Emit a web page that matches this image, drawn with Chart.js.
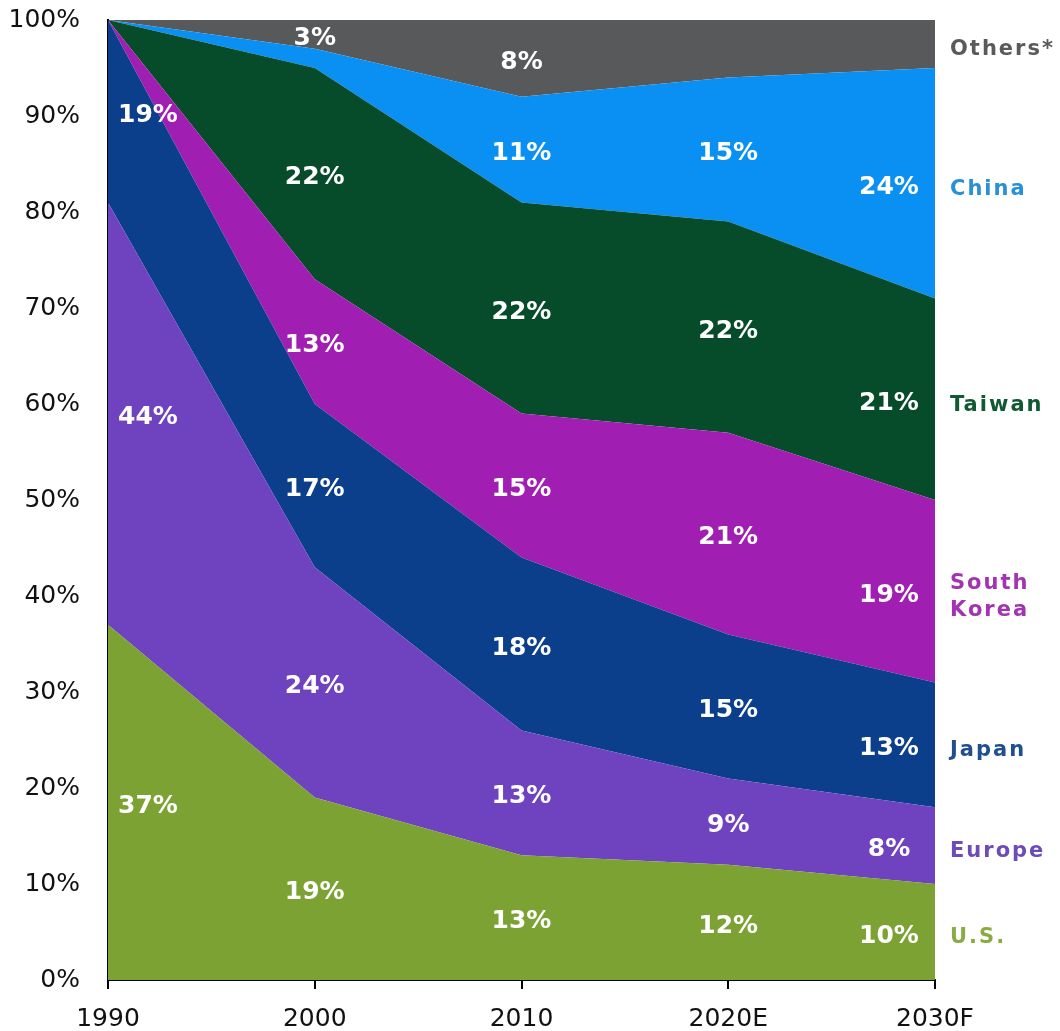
<!DOCTYPE html>
<html>
<head>
<meta charset="utf-8">
<script src="https://cdn.jsdelivr.net/npm/chart.js@4.4.1/dist/chart.umd.min.js"></script>
<style>
  html, body { margin: 0; padding: 0; background: #ffffff; }
  #wrap { width: 1060px; height: 1031px; position: relative; }
</style>
</head>
<body>
<div id="wrap"><canvas id="chart" width="1060" height="1031"></canvas></div>
<script>
// Share of semiconductor manufacturing capacity by region (%)
const years = ['1990', '2000', '2010', '2020E', '2030F'];
const us = [37, 19, 13, 12, 10];
const europe = [44, 24, 13, 9, 8];
const japan = [19, 17, 18, 15, 13];
const southKorea = [0, 13, 15, 21, 19];
const taiwan = [0, 22, 22, 22, 21];
const china = [0, 2, 11, 15, 24];
const others = [0, 3, 8, 6, 5];

const yTicks = [0, 10, 20, 30, 40, 50, 60, 70, 80, 90, 100];

// points whose value is too thin to carry a label
const unlabeledPoints = [['China', '2000'], ['Others*', '2020E'], ['Others*', '2030F']];

const seriesDefs = [
  { name: 'U.S.',    lines: ['U.S.'],           values: us,         fill: '#7ba232', text: '#8aab42' },
  { name: 'Europe',  lines: ['Europe'],         values: europe,     fill: '#6f42bf', text: '#6e4bb8' },
  { name: 'Japan',   lines: ['Japan'],          values: japan,      fill: '#0b3f8b', text: '#1f4f8e' },
  { name: 'South Korea', lines: ['South', 'Korea'], values: southKorea, fill: '#a11eb3', text: '#a233b2' },
  { name: 'Taiwan',  lines: ['Taiwan'],         values: taiwan,     fill: '#064c2b', text: '#0f5a33' },
  { name: 'China',   lines: ['China'],          values: china,      fill: '#0a90f3', text: '#2890d8' },
  { name: 'Others*', lines: ['Others*'],        values: others,     fill: '#58595b', text: '#5a5a5c' }
];

const datasets = seriesDefs.map((s, i) => ({
  label: s.name,
  data: s.values,
  backgroundColor: s.fill,
  borderColor: s.fill,
  borderWidth: 0,
  pointRadius: 0,
  pointHoverRadius: 0,
  tension: 0,
  fill: i === 0 ? 'origin' : '-1'
}));

function bandMid(si, idx) {
  let below = 0;
  for (let k = 0; k < si; k++) below += seriesDefs[k].values[idx];
  return below + seriesDefs[si].values[idx] / 2;
}

// white value labels inside each band plus region names on the right
const labelPlugin = {
  id: 'bandLabels',
  afterDatasetsDraw(chart) {
    const { ctx, chartArea, scales: { x, y } } = chart;
    ctx.save();
    ctx.textAlign = 'center';
    ctx.textBaseline = 'middle';
    ctx.font = 'bold 25px "DejaVu Sans"';
    ctx.fillStyle = '#ffffff';
    seriesDefs.forEach((s, si) => {
      s.values.forEach((v, idx) => {
        if (!v) return;
        if (unlabeledPoints.some(p => p[0] === s.name && p[1] === years[idx])) return;
        let px = x.getPixelForValue(idx);
        if (idx === 0) px += 40;
        if (idx === years.length - 1) px -= 46;
        const py = y.getPixelForValue(bandMid(si, idx)) + 4;
        ctx.fillText(v + '%', px, py);
      });
    });

    const last = years.length - 1;
    ctx.textAlign = 'left';
    ctx.font = 'bold 21px "DejaVu Sans"';
    try { ctx.letterSpacing = '2px'; } catch (e) {}
    seriesDefs.forEach((s, si) => {
      const cy = y.getPixelForValue(bandMid(si, last)) + 6;
      const lh = 27;
      const top = cy - (s.lines.length - 1) * lh / 2;
      ctx.fillStyle = s.text;
      s.lines.forEach((ln, li) => ctx.fillText(ln, chartArea.right + 15, top + li * lh));
    });
    ctx.restore();
  }
};

new Chart(document.getElementById('chart'), {
  type: 'line',
  data: { labels: years, datasets },
  options: {
    responsive: false,
    animation: false,
    events: [],
    layout: { padding: { top: 0, right: 125, bottom: 0, left: 0 } },
    plugins: {
      legend: { display: false },
      tooltip: { enabled: false },
      filler: { propagate: false }
    },
    scales: {
      x: {
        type: 'category',
        offset: false,
        afterFit(scale) { scale.height = 51; },
        grid: { display: true, drawOnChartArea: false, drawTicks: true, tickLength: 9, color: '#000000', lineWidth: 2 },
        border: { display: true, color: '#000000', width: 2 },
        ticks: { color: '#111111', font: { family: 'DejaVu Sans', size: 25 }, padding: 15, maxRotation: 0, autoSkip: false }
      },
      y: {
        stacked: true,
        min: 0,
        max: 100,
        afterFit(scale) {
          scale.width = 108;
          scale.paddingTop = 20;
          scale.paddingBottom = 0;
        },
        afterBuildTicks(scale) { scale.ticks = yTicks.map(v => ({ value: v })); },
        grid: { display: false, drawTicks: false },
        border: { display: true, color: '#000000', width: 2 },
        ticks: { color: '#111111', font: { family: 'DejaVu Sans', size: 25 }, padding: 28, callback: v => v + '%' }
      }
    }
  },
  plugins: [labelPlugin]
});
</script>
</body>
</html>
